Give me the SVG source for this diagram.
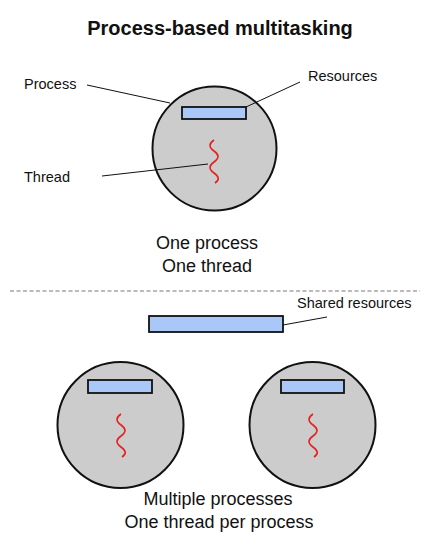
<svg xmlns="http://www.w3.org/2000/svg" width="441" height="557" viewBox="0 0 441 557">
<style>
.proc{fill:#cccccc;stroke:#111;stroke-width:2}
.res{fill:#a9c8f7;stroke:#111;stroke-width:1.8}
.thr{fill:none;stroke:#e3221f;stroke-width:1.6}
.lead{fill:none;stroke:#111;stroke-width:1}
.lbl{font-family:"Liberation Sans",Arial,sans-serif;font-size:14.5px;fill:#111}
.cap{font-family:"Liberation Sans",Arial,sans-serif;font-size:18px;fill:#111;text-anchor:middle}
.title{font-family:"Liberation Sans",Arial,sans-serif;font-size:20px;font-weight:bold;fill:#111;text-anchor:middle}
</style>
<rect width="441" height="557" fill="#fff"/>
<text class="title" x="220" y="35">Process-based multitasking</text>

<g id="process-top">
<circle class="proc" cx="214.5" cy="148.5" r="62"/>
<rect id="resources-top" class="res" x="182" y="107" width="64" height="12"/>
<path id="thread-top" class="thr" d="M214,140 Q206,145.5 214,151 T214,162 T214,173 T215,183"/>
</g>

<g id="process-left">
<circle class="proc" cx="120.5" cy="425" r="63"/>
<rect class="res" x="88" y="380" width="64" height="13"/>
<path class="thr" d="M121,414 Q113,419.5 121,425 T121,436 T121,447 T122,457"/>
</g>

<g id="process-right">
<circle class="proc" cx="312.5" cy="425" r="63"/>
<rect class="res" x="281" y="380" width="63" height="13"/>
<path class="thr" d="M313,414 Q305,419.5 313,425 T313,436 T313,447 T314,457"/>
</g>

<g id="shared-resources">
<rect class="res" x="149" y="316" width="134" height="16"/>
</g>

<g id="connectors">
<line class="lead" x1="87" y1="85" x2="170" y2="103"/>
<line class="lead" x1="300" y1="82" x2="246" y2="107"/>
<line class="lead" x1="102" y1="176" x2="208" y2="164"/>
<line class="lead" x1="283" y1="325" x2="327" y2="317"/>
<line x1="10" y1="291" x2="420" y2="291" stroke="#777" stroke-width="1" stroke-dasharray="4,2.5"/>
</g>

<g id="labels">
<text class="lbl" x="24" y="89">Process</text>
<text class="lbl" x="308" y="81">Resources</text>
<text class="lbl" x="24" y="182">Thread</text>
<text class="lbl" x="297" y="308">Shared resources</text>
<text class="cap" x="207" y="249">One process</text>
<text class="cap" x="207" y="272">One thread</text>
<text class="cap" x="218" y="505">Multiple processes</text>
<text class="cap" x="219" y="528">One thread per process</text>
</g>
</svg>
